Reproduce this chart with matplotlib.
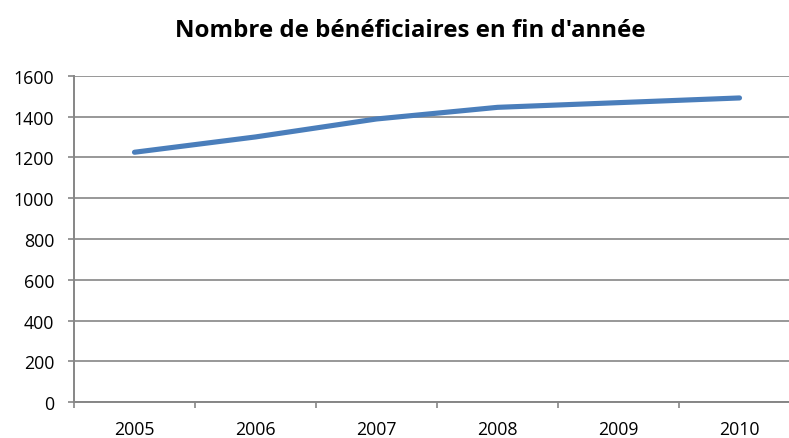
import matplotlib
matplotlib.use("Agg")
import matplotlib.pyplot as plt

years = ["2005", "2006", "2007", "2008", "2009", "2010"]
beneficiaires = [1225, 1300, 1388, 1445, 1468, 1491]
y_ticks = [0, 200, 400, 600, 800, 1000, 1200, 1400, 1600]

W, H = 789, 439
fig = plt.figure(figsize=(W / 100, H / 100), dpi=100)
left, right, top, bottom = 74, 800, 76.7, 403.3
ax = fig.add_axes([left / W, (H - bottom) / H, (right - left) / W, (bottom - top) / H])

x = list(range(len(years)))
ax.plot(x, beneficiaires, color="#4A7EBB", linewidth=3.7, solid_capstyle="round", solid_joinstyle="round", zorder=3)

ax.set_xlim(-0.5, len(years) - 0.5)
ax.set_ylim(0, 1600)
ax.set_yticks(y_ticks)
ax.set_xticks(x)
ax.set_xticklabels(years)
ax.set_xticks([i - 0.5 for i in range(len(years) + 1)], minor=True)

grid_color = "#868686"
ax.yaxis.grid(True, color=grid_color, linewidth=1.2)
ax.set_axisbelow(True)
for s in ["top", "right"]:
    ax.spines[s].set_visible(False)
for s in ["left", "bottom"]:
    ax.spines[s].set_color(grid_color)
    ax.spines[s].set_linewidth(1.4)

font = "Open Sans"
ax.tick_params(axis="y", which="major", length=4.3, width=1.2, color=grid_color, pad=10, labelsize=12.8, labelcolor="black")
ax.tick_params(axis="x", which="major", length=0, pad=13, labelsize=12.8, labelcolor="black")
ax.tick_params(axis="x", which="minor", length=4.3, width=1.2, color=grid_color, direction="out")
for lab in ax.get_xticklabels() + ax.get_yticklabels():
    lab.set_family(font)

fig.text(410.5 / W, 1 - 37 / H, "Nombre de bénéficiaires en fin d'année", ha="center", va="baseline",
         fontsize=17.3, fontweight="bold", family=font)

fig.savefig("out.png", dpi=100, facecolor="white")
